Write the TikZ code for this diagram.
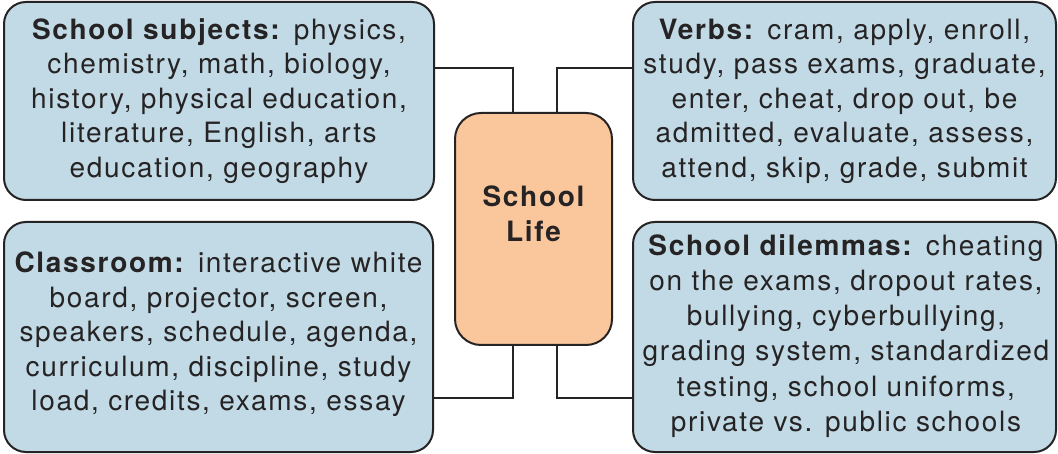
\documentclass[tikz,border=0pt]{standalone}
\usepackage{fontspec}
\setmainfont{TeX Gyre Heros}[LetterSpace=6]
\usepackage{tikz}

\definecolor{boxblue}{HTML}{C1DAE5}
\definecolor{boxorange}{HTML}{FAC79D}
\definecolor{inkgray}{HTML}{262324}

\tikzset{
  topic/.style={draw=inkgray, line width=2pt, fill=boxblue, rounded corners=22pt,
    align=center, text=inkgray, inner sep=0pt},
  hub/.style={draw=inkgray, line width=2pt, fill=boxorange, rounded corners=26pt},
  link/.style={draw=inkgray, line width=2pt}
}

\begin{document}
\begin{tikzpicture}[x=1pt,y=-1pt]
  \useasboundingbox (0,0) rectangle (1058,454);
  \fontsize{28}{34.5}\selectfont

  %% four topic boxes
  \node[topic, minimum width=430, minimum height=198] (subj) at (219,101) {};
  \node[topic, minimum width=429, minimum height=230] (room) at (218.5,337) {};
  \node[topic, minimum width=423, minimum height=198] (verbs) at (844.5,101) {};
  \node[topic, minimum width=423, minimum height=230] (dilem) at (844.5,337) {};

  %% centre
  \node[hub, minimum width=157, minimum height=232] (life) at (533.5,229) {};
  \node[align=center, text=inkgray, font=\bfseries] (lifetxt) at (533.5,214)
    {School\\Life};

  %% texts
  \node[align=center, text=inkgray] (subjtxt) at (subj.center)
    {\textbf{School subjects:} physics,\\chemistry, math, biology,\\history, physical education,\\literature, English, arts\\education, geography};
  \node[align=center, text=inkgray] (roomtxt) at (218.5,334.5)
    {\textbf{Classroom:} interactive white\\board, projector, screen,\\speakers, schedule, agenda,\\curriculum, discipline, study\\load, credits, exams, essay};
  \node[align=center, text=inkgray] (verbstxt) at (verbs.center)
    {\textbf{Verbs:} cram, apply, enroll,\\study, pass exams, graduate,\\enter, cheat, drop out, be\\admitted, evaluate, assess,\\attend, skip, grade, submit};
  \node[align=center, text=inkgray, font=\fontsize{28}{35.2}\selectfont] (dilemtxt) at (846,336)
    {\textbf{School dilemmas:} cheating\\on the exams, dropout rates,\\bullying, cyberbullying,\\grading system, standardized\\testing, school uniforms,\\private vs. public schools};

  %% connectors
  \coordinate (tl) at (513,68);
  \coordinate (tr) at (557,68);
  \coordinate (bl) at (513,398);
  \coordinate (br) at (557,398);
  \draw[link] (life.north -| tl) -- (tl) -- (subj.east |- tl);
  \draw[link] (life.north -| tr) -- (tr) -- (verbs.west |- tr);
  \draw[link] (life.south -| bl) -- (bl) -- (room.east |- bl);
  \draw[link] (life.south -| br) -- (br) -- (dilem.west |- br);

\end{tikzpicture}
\end{document}
